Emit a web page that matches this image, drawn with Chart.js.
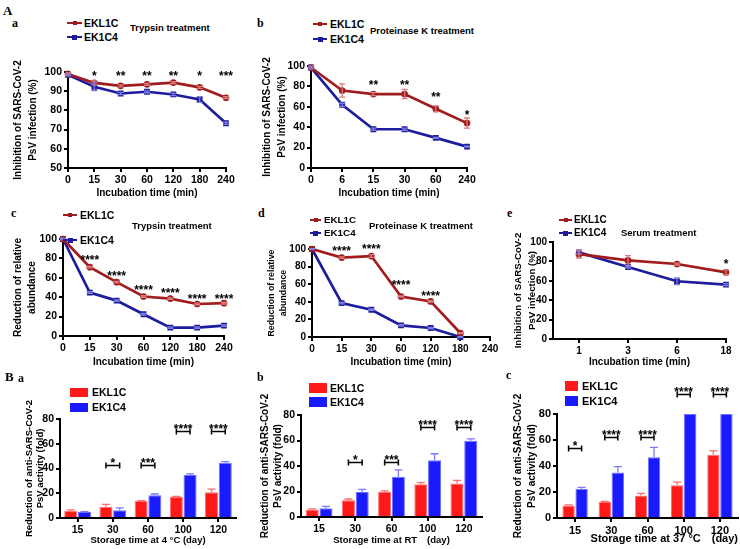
<!DOCTYPE html>
<html>
<head>
<meta charset="utf-8">
<script src="https://cdn.jsdelivr.net/npm/chart.js@4.4.0/dist/chart.umd.min.js"></script>
<style>
  body { margin: 0; background: #fff; width: 740px; height: 549px; position: relative; overflow: hidden;
         font-family: "Liberation Sans", Arial, sans-serif; }
  canvas { position: absolute; }
  .txt { position: absolute; font-weight: bold; white-space: nowrap; line-height: 1; color: #000; }
  .pl { font-family: "Liberation Serif", "DejaVu Serif", serif; }
  .sw { position: absolute; }
</style>
</head>
<body>
<canvas id="pa"></canvas>
<canvas id="pb"></canvas>
<canvas id="pc"></canvas>
<canvas id="pd"></canvas>
<canvas id="pe"></canvas>
<canvas id="qa"></canvas>
<canvas id="qb"></canvas>
<canvas id="qc"></canvas>
<script>
// ---- data ----
// A-a trypsin, PsV inhibition (%)
const timeA = ['0', '15', '30', '60', '120', '180', '240'];
const aEKL1C = [99, 94.3, 92.8, 93.6, 94.5, 92, 86.6];
const aEK1C4 = [98.5, 92.3, 88.8, 89.7, 88.3, 85.7, 73.3];
const aErrL = [0.5, 1, 0.5, 0.5, 0.5, 0.5, 0.5];
const aErrC = [0.5, 2, 0.6, 0.5, 0.6, 1.5, 0.6];
const aStars = ['', '*', '**', '**', '**', '*', '***'];
const aStarLevel = [0, 99.3, 99.3, 99.3, 99.3, 99.3, 99.3];

// A-b proteinase K, PsV inhibition (%)
const timeB = ['0', '6', '15', '30', '60', '240'];
const bEKL1C = [98.5, 76, 72.5, 72.5, 58, 44];
const bEK1C4 = [98.5, 62, 38, 38, 29.5, 21];
const bErrL = [1, 6.5, 1.5, 4.5, 3, 5];
const bErrC = [1, 1.5, 1, 1, 0.5, 0.5];
const bStars = ['', '', '**', '**', '**', '*'];
const bStarLevel = [0, 0, 84, 84, 73, 55];

// A-c trypsin, relative abundance
const cEKL1C = [100, 71, 55.5, 40.7, 38.6, 33, 33.8];
const cEK1C4 = [100, 44.8, 36.5, 22.4, 8.6, 8.6, 10.7];
const cErrL = [0.5, 0.8, 0.8, 0.8, 0.8, 0.8, 0.8];
const cErrC = [0.5, 0.8, 0.8, 0.8, 0.8, 0.8, 0.8];
const cStars = ['', '****', '****', '****', '****', '****', '****'];
const cStarLevel = [0, 81, 65, 50, 47.6, 40.7, 40.7];

// A-d proteinase K, relative abundance
const dEKL1C = [100, 90.2, 92, 46, 40.4, 4.5, null];
const dEK1C4 = [100, 38.5, 31, 13.2, 10.2, 0, null];
const dErrL = [0.5, 0.8, 1.5, 0.8, 0.8, 0.5, 0];
const dErrC = [0.5, 0.8, 0.8, 0.8, 0.8, 0.5, 0];
const dStars = ['', '****', '****', '****', '****', '', ''];
const dStarLevel = [0, 101.5, 103, 63, 50, 0, 0];

// A-e serum, PsV inhibition (%)
const timeE = ['1', '3', '6', '18'];
const eEKL1C = [87.5, 81, 77.3, 68.7];
const eEK1C4 = [89.3, 74.2, 59.5, 56];
const eErrL = [4, 5, 1, 2.5];
const eErrC = [1.5, 1, 3.5, 1];
const eStars = ['', '', '', '*'];
const eStarLevel = [0, 0, 0, 80.8];

// B storage, fold reduction of activity
const days = ['15', '30', '60', '100', '120'];
const baEKL1C = [5.7, 9, 13.8, 17, 20.8];
const baEK1C4 = [4.9, 6.2, 18.4, 34.7, 44.7];
const baErrL = [0.8, 2, 0.3, 0.5, 2.5];
const baErrC = [0.3, 2, 1, 1, 0.8];
const baSig = ['', '*', '***', '****', '****'];
const baSigLevel = [0, 42.8, 42.8, 70.3, 70.3];

const bbEKL1C = [5.8, 13.1, 19.7, 25.7, 26.2];
const bbEK1C4 = [6.8, 19.7, 31.5, 44.6, 59.8];
const bbErrL = [0.6, 1, 0.8, 1.3, 2.5];
const bbErrC = [1.5, 2, 5.5, 5, 1.5];
const bbSig = ['', '*', '***', '****', '****'];
const bbSigLevel = [0, 43.1, 43.1, 70.6, 70.6];

const bcEKL1C = [9.7, 12.3, 17.4, 25.1, 48.6];
const bcEK1C4 = [22.5, 35, 46.8, 80, 80];
const bcErrL = [0.4, 0.5, 1.5, 2.5, 3];
const bcErrC = [1, 4.5, 7.5, 0, 0];
const bcSig = ['*', '****', '****', '****', '****'];
const bcSigLevel = [53.8, 62.3, 62.3, 95.4, 95.4];

// ---- styling ----
const FONT = '"Liberation Sans", Arial, sans-serif';
const RED = '#a11c1c', BLUE = '#1c1c9c';
const RED_ERR = '#d87c7c', BLUE_ERR = '#7e7ee2';
const BAR_RED = '#ff1a1a', BAR_BLUE = '#1a1aff';

// error bars drawn from each dataset's errors array
Chart.register({
    id: 'errorBars',
    afterDatasetsDraw(chart) {
        const ctx = chart.ctx, y = chart.scales.y;
        chart.data.datasets.forEach((ds, di) => {
            if (!ds.errors) return;
            const meta = chart.getDatasetMeta(di);
            ctx.save();
            ctx.strokeStyle = ds.errorColor;
            ctx.lineWidth = 1.3;
            meta.data.forEach((el, i) => {
                const raw = ds.data[i];
                const v = raw && typeof raw === 'object' ? raw.y : raw;
                const e = ds.errors[i];
                if (v == null || !e) return;
                const top = y.getPixelForValue(v + e);
                const bot = ds.upperOnly ? y.getPixelForValue(v) : y.getPixelForValue(v - e);
                const cap = ds.capWidth || 3;
                ctx.beginPath();
                ctx.moveTo(el.x, top); ctx.lineTo(el.x, bot);
                ctx.moveTo(el.x - cap, top); ctx.lineTo(el.x + cap, top);
                if (!ds.upperOnly) { ctx.moveTo(el.x - cap, bot); ctx.lineTo(el.x + cap, bot); }
                ctx.stroke();
            });
            ctx.restore();
        });
    }
});

function starPlugin(labels, levels, size) {
    return {
        id: 'stars',
        afterDatasetsDraw(chart) {
            const ctx = chart.ctx, x = chart.scales.x, y = chart.scales.y;
            ctx.save();
            ctx.fillStyle = '#000';
            ctx.font = `bold ${size}px ${FONT}`;
            ctx.textAlign = 'center';
            ctx.textBaseline = 'alphabetic';
            labels.forEach((s, i) => {
                if (!s) return;
                ctx.fillText(s, x.getPixelForValue(i), y.getPixelForValue(levels[i]) + size * 0.58);
            });
            ctx.restore();
        }
    };
}

function bracketPlugin(labels, levels) {
    return {
        id: 'brackets',
        afterDatasetsDraw(chart) {
            const ctx = chart.ctx, y = chart.scales.y;
            const m0 = chart.getDatasetMeta(0), m1 = chart.getDatasetMeta(1);
            ctx.save();
            ctx.strokeStyle = '#000';
            ctx.fillStyle = '#000';
            ctx.lineWidth = 1.5;
            ctx.font = `bold 12px ${FONT}`;
            ctx.textAlign = 'center';
            labels.forEach((s, i) => {
                if (!s) return;
                const x0 = m0.data[i].x, x1 = m1.data[i].x;
                const py = Math.round(y.getPixelForValue(levels[i])) + 0.5;
                ctx.beginPath();
                ctx.moveTo(x0, py - 3); ctx.lineTo(x0, py + 3);
                ctx.moveTo(x0, py); ctx.lineTo(x1, py);
                ctx.moveTo(x1, py - 3); ctx.lineTo(x1, py + 3);
                ctx.stroke();
                ctx.fillText(s, (x0 + x1) / 2, py + 1);
            });
            ctx.restore();
        }
    };
}

// place canvas and compute padding so the plot area lands where it is in the figure
function setup(id, box, plot) {
    const c = document.getElementById(id);
    c.width = box.w; c.height = box.h;
    c.style.left = box.x + 'px'; c.style.top = box.y + 'px';
    return {
        canvas: c,
        padding: { left: 0, top: plot.t - box.y, right: box.x + box.w - plot.r, bottom: 0 },
        yW: plot.l - box.x,
        xH: box.y + box.h - plot.b
    };
}

function axisBase(tickSize) {
    return {
        grid: { display: true, drawOnChartArea: false, drawTicks: true, tickLength: 4, color: '#000', lineWidth: 2 },
        border: { display: true, color: '#000', width: 2 },
        ticks: { color: '#000', font: { family: FONT, size: tickSize, weight: 'bold' }, padding: 2, maxRotation: 0, autoSkip: false }
    };
}

function lineChart(id, box, plot, o) {
    const L = setup(id, box, plot);
    const linear = !!o.linearX;
    const pts = arr => linear ? arr.map((v, i) => ({ x: i, y: v })) : arr;
    const x = axisBase(o.tickSize);
    if (linear) {
        Object.assign(x, {
            type: 'linear', min: o.xMin, max: o.labels.length - 1,
            afterBuildTicks: s => { s.ticks = o.labels.map((_, i) => ({ value: i })); }
        });
        x.ticks.callback = v => o.labels[v];
    } else {
        x.type = 'category';
        x.offset = false;
    }
    x.title = { display: true, text: o.xTitle, color: '#000', padding: { top: 0, bottom: 4 },
                font: { family: FONT, size: 10, weight: 'bold', lineHeight: 1.2 } };
    x.afterFit = s => { s.height = L.xH; };
    const y = axisBase(o.tickSize);
    Object.assign(y, { min: o.yMin, max: o.yMax });
    y.ticks.stepSize = o.step;
    y.title = { display: true, text: o.yTitle, color: '#000', padding: { top: o.yPad, bottom: 0 },
                font: { family: FONT, size: o.yTitleSize, weight: 'bold', lineHeight: o.yLH } };
    y.afterFit = s => { s.width = L.yW; };

    new Chart(L.canvas, {
        type: 'line',
        data: {
            labels: o.labels,
            datasets: [
                { label: 'EKL1C', data: pts(o.red), errors: o.redErr, errorColor: RED_ERR,
                  borderColor: RED, backgroundColor: RED, borderWidth: 2.7, pointRadius: 2, pointStyle: 'circle', clip: false },
                { label: 'EK1C4', data: pts(o.blue), errors: o.blueErr, errorColor: BLUE_ERR,
                  borderColor: BLUE, backgroundColor: BLUE, borderWidth: 2.7, pointRadius: 2.2, pointStyle: 'rect', clip: false }
            ]
        },
        options: {
            responsive: false, animation: false,
            layout: { padding: L.padding },
            scales: { x, y },
            plugins: { legend: { display: false }, tooltip: { enabled: false } }
        },
        plugins: [starPlugin(o.stars, o.starLevels, 12)]
    });
}

function barChart(id, box, plot, o) {
    const L = setup(id, box, plot);
    const x = axisBase(o.tickSize || 10.5);
    x.type = 'category';
    x.offset = true;
    x.grid.offset = false;
    x.title = { display: true, text: o.xTitle, color: '#000', padding: { top: 0, bottom: 3 }, align: o.xAlign || 'center',
                font: { family: FONT, size: o.xTitleSize || 9.5, weight: 'bold', lineHeight: 1.2 } };
    x.afterFit = s => { s.height = L.xH; };
    const y = axisBase(o.tickSize || 10.5);
    Object.assign(y, { min: 0, max: 80 });
    y.ticks.stepSize = 20;
    y.title = { display: true, text: ['Reduction of anti-SARS-CoV-2', 'PsV activity (fold)'], color: '#000',
                padding: { top: o.yPad, bottom: 0 },
                font: { family: FONT, size: o.yTitleSize, weight: 'bold', lineHeight: o.yLH } };
    y.afterFit = s => { s.width = L.yW; };

    new Chart(L.canvas, {
        type: 'bar',
        data: {
            labels: days,
            datasets: [
                { label: 'EKL1C', data: o.red, errors: o.redErr, errorColor: '#ff6a6a', upperOnly: true, capWidth: 4,
                  backgroundColor: BAR_RED, borderColor: '#ff7070', borderWidth: 1, borderSkipped: 'bottom' },
                { label: 'EK1C4', data: o.blue, errors: o.blueErr, errorColor: '#7a7aff', upperOnly: true, capWidth: 4,
                  backgroundColor: BAR_BLUE, borderColor: '#7070ff', borderWidth: 1, borderSkipped: 'bottom' }
            ]
        },
        options: {
            responsive: false, animation: false,
            layout: { padding: L.padding },
            datasets: { bar: { barPercentage: 0.95, categoryPercentage: o.catPct } },
            scales: { x, y },
            plugins: { legend: { display: false }, tooltip: { enabled: false } }
        },
        plugins: [bracketPlugin(o.sig, o.sigLevel)]
    });
}

const inhib = ['Inhibition of SARS-CoV-2', 'PsV infection (%)'];
const abund = ['Reduction of relative', 'abundance'];

lineChart('pa', { x: 0, y: 45, w: 245, h: 158 }, { l: 68, t: 72, r: 226, b: 168 }, {
    labels: timeA, red: aEKL1C, blue: aEK1C4, redErr: aErrL, blueErr: aErrC,
    yMin: 50, yMax: 100, step: 10, tickSize: 10.5,
    yTitle: inhib, yTitleSize: 10, yLH: 1.5, yPad: 10.5, xTitle: 'Incubation time (min)',
    stars: aStars, starLevels: aStarLevel
});
lineChart('pb', { x: 250, y: 45, w: 238, h: 158 }, { l: 311, t: 66, r: 467, b: 168 }, {
    labels: timeB, red: bEKL1C, blue: bEK1C4, redErr: bErrL, blueErr: bErrC,
    yMin: 0, yMax: 100, step: 20, tickSize: 10.5,
    yTitle: inhib, yTitleSize: 10, yLH: 1.5, yPad: 9.5, xTitle: 'Incubation time (min)',
    stars: bStars, starLevels: bStarLevel
});
lineChart('pc', { x: 0, y: 225, w: 245, h: 147 }, { l: 63, t: 239, r: 224, b: 336 }, {
    labels: timeA, red: cEKL1C, blue: cEK1C4, redErr: cErrL, blueErr: cErrC,
    yMin: 0, yMax: 100, step: 20, tickSize: 10.5,
    yTitle: abund, yTitleSize: 10, yLH: 1.4, yPad: 11, xTitle: 'Incubation time (min)',
    stars: cStars, starLevels: cStarLevel
});
lineChart('pd', { x: 250, y: 225, w: 255, h: 147 }, { l: 312, t: 249, r: 490, b: 337 }, {
    labels: timeA, red: dEKL1C, blue: dEK1C4, redErr: dErrL, blueErr: dErrC,
    yMin: 0, yMax: 100, step: 20, tickSize: 10,
    yTitle: abund, yTitleSize: 8.8, yLH: 1.3, yPad: 16, xTitle: 'Incubation time (min)',
    stars: dStars, starLevels: dStarLevel
});
lineChart('pe', { x: 490, y: 225, w: 250, h: 147 }, { l: 553, t: 242, r: 726, b: 339 }, {
    labels: timeE, red: eEKL1C, blue: eEK1C4, redErr: eErrL, blueErr: eErrC, linearX: true, xMin: -0.53,
    yMin: 0, yMax: 100, step: 20, tickSize: 10,
    yTitle: inhib, yTitleSize: 9.7, yLH: 1.45, yPad: 21, xTitle: 'Incubation time (min)',
    stars: eStars, starLevels: eStarLevel
});

barChart('qa', { x: 0, y: 375, w: 245, h: 174 }, { l: 60, t: 419, r: 236, b: 518 }, {
    red: baEKL1C, blue: baEK1C4, redErr: baErrL, blueErr: baErrC, sig: baSig, sigLevel: baSigLevel,
    xTitle: 'Storage time at 4 °C (day)', yTitleSize: 9.5, yLH: 1.25, yPad: 23, catPct: 0.78
});
barChart('qb', { x: 250, y: 375, w: 240, h: 174 }, { l: 301, t: 415, r: 482, b: 517 }, {
    red: bbEKL1C, blue: bbEK1C4, redErr: bbErrL, blueErr: bbErrC, sig: bbSig, sigLevel: bbSigLevel,
    xTitle: 'Storage time at RT\u3000(day)', yTitleSize: 10, yLH: 1.3, yPad: 8.5, catPct: 0.76
});
barChart('qc', { x: 490, y: 375, w: 250, h: 174 }, { l: 557, t: 414, r: 738, b: 518 }, {
    red: bcEKL1C, blue: bcEK1C4, redErr: bcErrL, blueErr: bcErrC, sig: bcSig, sigLevel: bcSigLevel,
    xTitle: 'Storage time at 37 °C\u3000(day)', xTitleSize: 11, xAlign: 'end', tickSize: 11,
    yTitleSize: 10, yLH: 1.4, yPad: 21, catPct: 0.72
});

// ---- text overlays: panel letters, legends, treatment labels ----
function text(str, x, y, size, cls) {
    const d = document.createElement('div');
    d.className = 'txt' + (cls ? ' ' + cls : '');
    d.textContent = str;
    d.style.left = x + 'px';
    d.style.top = (y - size / 2) + 'px';
    d.style.fontSize = size + 'px';
    document.body.appendChild(d);
}
function box(x, y, w, h, color) {
    const d = document.createElement('div');
    d.className = 'sw';
    d.style.cssText += `left:${x}px;top:${y}px;width:${w}px;height:${h}px;background:${color}`;
    document.body.appendChild(d);
}
function lineKey(x0, x1, tx, yR, yB, size) {
    box(x0, yR - 1.25, x1 - x0, 2.5, RED);
    box((x0 + x1) / 2 - 2, yR - 2, 4, 4, RED);
    text('EKL1C', tx, yR, size);
    box(x0, yB - 1.25, x1 - x0, 2.5, BLUE);
    box((x0 + x1) / 2 - 2.5, yB - 2.5, 5, 5, BLUE);
    text('EK1C4', tx, yB, size);
}
function barKey(x, w, yR, yB, h, tx, size) {
    box(x, yR, w, h, BAR_RED);
    text('EKL1C', tx, yR + h / 2, size);
    box(x, yB, w, h, BAR_BLUE);
    text('EK1C4', tx, yB + h / 2, size);
}

text('A', 3, 10, 13, 'pl');
text('a', 12, 23, 12, 'pl');
text('b', 257, 23, 12, 'pl');
text('c', 11, 213, 12, 'pl');
text('d', 258, 213, 12, 'pl');
text('e', 507, 213, 12, 'pl');
text('B', 5, 376, 13, 'pl');
text('a', 18, 378, 12, 'pl');
text('b', 257, 377, 12, 'pl');
text('c', 506, 375, 12, 'pl');

lineKey(67, 82, 84, 23, 37, 10.5);
text('Trypsin treatment', 130, 28, 9.5);
lineKey(313, 327, 330, 24, 39, 10.5);
text('Proteinase K treatment', 370, 31, 9.5);
lineKey(63, 77, 80, 215, 240, 10.5);
text('Trypsin treatment', 132, 226, 9.5);
lineKey(310, 321, 324, 220, 233, 9.8);
text('Proteinase K treatment', 369, 226, 9.5);
lineKey(559, 572, 574, 220, 233, 10);
text('Serum treatment', 621, 233, 9.5);

barKey(70, 18, 388, 403, 9, 92, 10.5);
barKey(309, 18, 383, 397, 9.5, 330, 10.5);
barKey(565, 13, 381, 396, 10, 582, 11);
</script>
</body>
</html>
